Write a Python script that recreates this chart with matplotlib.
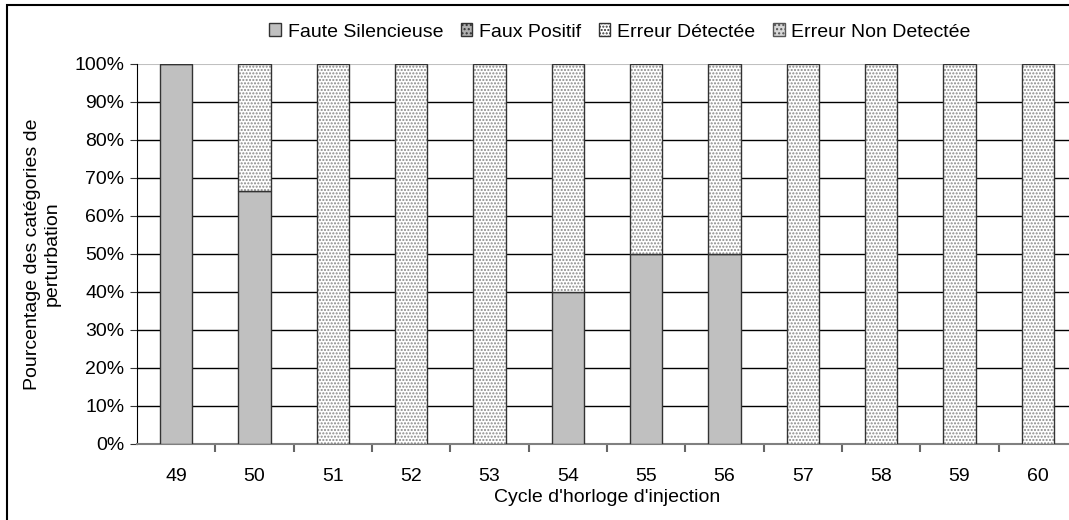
import matplotlib.pyplot as plt
from matplotlib.patches import Rectangle, Patch

plt.rcParams['font.family'] = ['Liberation Sans', 'DejaVu Sans']

cycles = ['49', '50', '51', '52', '53', '54', '55', '56', '57', '58', '59', '60']
faute_silencieuse = [100, 66.7, 0, 0, 0, 40, 50, 50, 0, 0, 0, 0]
faux_positif = [0, 0, 0, 0, 0, 0, 0, 0, 0, 0, 0, 0]
erreur_detectee = [0, 33.3, 100, 100, 100, 60, 50, 50, 100, 100, 100, 100]
erreur_non_detectee = [0, 0, 0, 0, 0, 0, 0, 0, 0, 0, 0, 0]

fs = 14

fig = plt.figure(figsize=(10.69, 5.2), dpi=100)
ax = fig.add_axes([137 / 1069, 76 / 520, 940 / 1069, 380 / 520])

x = list(range(len(cycles)))
w = 0.41

# stacked bars: grey solid, then dotted
ax.bar(x, faute_silencieuse, w, color='#c0c0c0', edgecolor='#333333', linewidth=1, zorder=3)
bottom = [a + b for a, b in zip(faute_silencieuse, faux_positif)]
ax.bar(x, erreur_detectee, w, bottom=bottom, color='white', edgecolor='#8a8a8a',
       hatch='.....', linewidth=0, zorder=3)
ax.bar(x, erreur_detectee, w, bottom=bottom, fill=False, edgecolor='#333333',
       linewidth=1, zorder=4)

ax.set_xlim(-0.5, len(cycles) - 0.5)
ax.set_ylim(0, 100)
ax.set_yticks(range(0, 101, 10))
ax.set_yticklabels([f'{v}%' for v in range(0, 101, 10)], fontsize=fs)
ax.set_xticks(x)
ax.set_xticklabels(cycles, fontsize=fs)
ax.set_xticks([i + 0.5 for i in x[:-1]], minor=True)
ax.tick_params(axis='x', which='major', length=0, pad=17)
ax.tick_params(axis='x', which='minor', length=6, width=1.5, color='#666666')
ax.tick_params(axis='y', length=5, color='#333333', direction='out', pad=4)

for v in range(10, 100, 10):
    ax.axhline(v, color='black', linewidth=1, zorder=1)
ax.axhline(100, color='#c0c0c0', linewidth=1.5, zorder=1)

for s in ['top', 'right']:
    ax.spines[s].set_visible(False)
ax.spines['left'].set_color('black')
ax.spines['bottom'].set_color('#808080')
ax.spines['bottom'].set_linewidth(1.5)

ax.set_xlabel("Cycle d'horloge d'injection", fontsize=fs, labelpad=3)
ax.set_ylabel('Pourcentage des catégories de\nperturbation', fontsize=fs, labelpad=10)

handles = [
    Patch(facecolor='#c0c0c0', edgecolor='#333333', label='Faute Silencieuse'),
    Patch(facecolor='#b0b0b0', edgecolor='#333333', hatch='....', label='Faux Positif'),
    Patch(facecolor='white', edgecolor='#333333', hatch='.....', label='Erreur Détectée'),
    Patch(facecolor='#d8d8d8', edgecolor='#555555', hatch='....', label='Erreur Non Detectée'),
]
fig.legend(handles=handles, loc='center', bbox_to_anchor=(620 / 1069, 1 - 32 / 520),
           ncol=4, frameon=False, fontsize=fs, handlelength=0.6, handleheight=0.6,
           handletextpad=0.35, columnspacing=0.9)

# outer frame around the chart
fig.patches.append(Rectangle((7 / 1069, -0.05), 1.1, 1 - 5 / 520 + 0.05,
                             transform=fig.transFigure, fill=False,
                             edgecolor='black', linewidth=1.5))

plt.savefig('out.png', dpi=100)
